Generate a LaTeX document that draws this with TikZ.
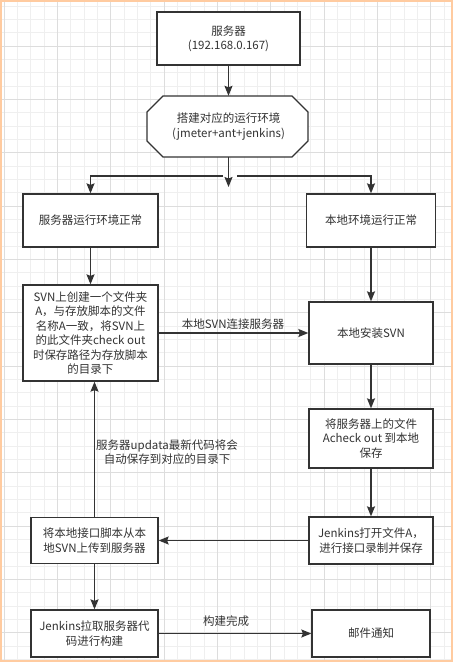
\documentclass[tikz,border=0pt]{standalone}
\usepackage{fontspec}
\setmainfont{Noto Sans CJK SC}
\usetikzlibrary{arrows.meta,calc}
\definecolor{ink}{HTML}{333333}
\definecolor{gmin}{HTML}{EFEFEF}
\definecolor{gmaj}{HTML}{DDDDDD}
\definecolor{frame}{HTML}{FFCBA0}
\begin{document}
\begin{tikzpicture}[x=1pt,y=-1pt,
  txt/.style={text=ink, align=center, font=\fontsize{11.5}{14.4}\selectfont},
  box/.style={txt, draw=ink, line width=1.3pt, fill=white, inner sep=0pt},
  arr/.style={draw=ink, line width=1.3pt, -{Stealth[length=10pt,width=8pt,inset=1.5pt]}},
  lbl/.style={txt, inner sep=1pt}]
\useasboundingbox (0,0) rectangle (453,662);
\fill[white] (0,0) rectangle (453,662);
% grid
\foreach \i in {0,...,34} {\pgfmathsetmacro\xx{4+13.3333*\i}\draw[gmin, line width=0.8pt] (\xx,0) -- (\xx,662);}
\foreach \i in {1,...,50} {\pgfmathsetmacro\yy{-7.3333+13.3333*\i}\draw[gmin, line width=0.8pt] (0,\yy) -- (453,\yy);}
\foreach \i in {0,...,8} {\pgfmathsetmacro\xx{4+53.3333*\i}\draw[gmaj, line width=0.8pt] (\xx,0) -- (\xx,662);}
\foreach \i in {1,...,12} {\pgfmathsetmacro\yy{-7.3333+53.3333*\i}\draw[gmaj, line width=0.8pt] (0,\yy) -- (453,\yy);}
\draw[frame, line width=2pt] (1,1) rectangle (452,661);
% nodes
\node[box, minimum width=143pt, minimum height=53pt] (srv) at (228.5,38.5) {服务器\\(192.168.0.167)};
\draw[ink, line width=1.3pt, fill=white] (163,96) -- (292,96) -- (308,112) -- (308,141) -- (292,157) -- (163,157) -- (147,141) -- (147,112) -- cycle;
\node[txt, minimum width=161pt, minimum height=61pt, inner sep=0pt] (oct) at (228.5,126.5) {搭建对应的运行环境\\(jmeter+ant+jenkins)};
\node[box, minimum width=135pt, minimum height=53pt] (envl) at (90.5,220.5) {服务器运行环境正常};
\node[box, minimum width=129pt, minimum height=53pt] (envr) at (371,220.5) {本地环境运行正常};
\node[box, minimum width=135pt, minimum height=96pt] (svn) at (90.5,333) {SVN上创建一个文件夹\\A，与存放脚本的文件\\名称A一致，将SVN上\\的此文件夹check out\\时保存路径为存放脚本\\的目录下};
\node[box, minimum width=124pt, minimum height=62pt] (inst) at (371,333) {本地安装SVN};
\node[box, minimum width=124pt, minimum height=59pt] (chk) at (371,438.5) {将服务器上的文件\\Acheck out 到本地\\保存};
\node[box, minimum width=124pt, minimum height=47pt] (jen) at (371,540.5) {Jenkins打开文件A，\\进行接口录制并保存};
\node[box, minimum width=127pt, minimum height=46pt] (upl) at (94.5,540.5) {将本地接口脚本从本\\地SVN上传到服务器};
\node[box, minimum width=127pt, minimum height=47pt] (jb) at (94.5,633.5) {Jenkins拉取服务器代\\码进行构建};
\node[box, minimum width=118pt, minimum height=47pt] (mail) at (371,633.5) {邮件通知};
% labels
\node[lbl] (l1) at (233,324) {本地SVN连接服务器};
\node[lbl] (l2) at (167,452) {服务器updata最新代码将会\\自动保存到对应的目录下};
\node[lbl] (l3) at (226,621) {构建完成};
% connectors
\coordinate (dng) at (228.5,187);
\coordinate (jl) at (223,176);
\coordinate (jr) at (237,176);
\draw[arr] (srv) -- (oct);
\draw[arr] (oct.south) -- (dng);
\draw[arr] (jl) -| (envl.north);
\draw[arr] (jr) -| (envr.north);
\draw[arr] (envl) -- (svn);
\draw[arr] (envr) -- (inst);
\draw[arr] (svn) -- (inst);
\draw[arr] (inst) -- (chk);
\draw[arr] (chk) -- (jen);
\draw[arr] (jen) -- (upl);
\draw[arr] (upl.north) -- (upl.north |- svn.south);
\draw[arr] (upl) -- (jb);
\draw[arr] (jb) -- (mail);
\end{tikzpicture}
\end{document}
